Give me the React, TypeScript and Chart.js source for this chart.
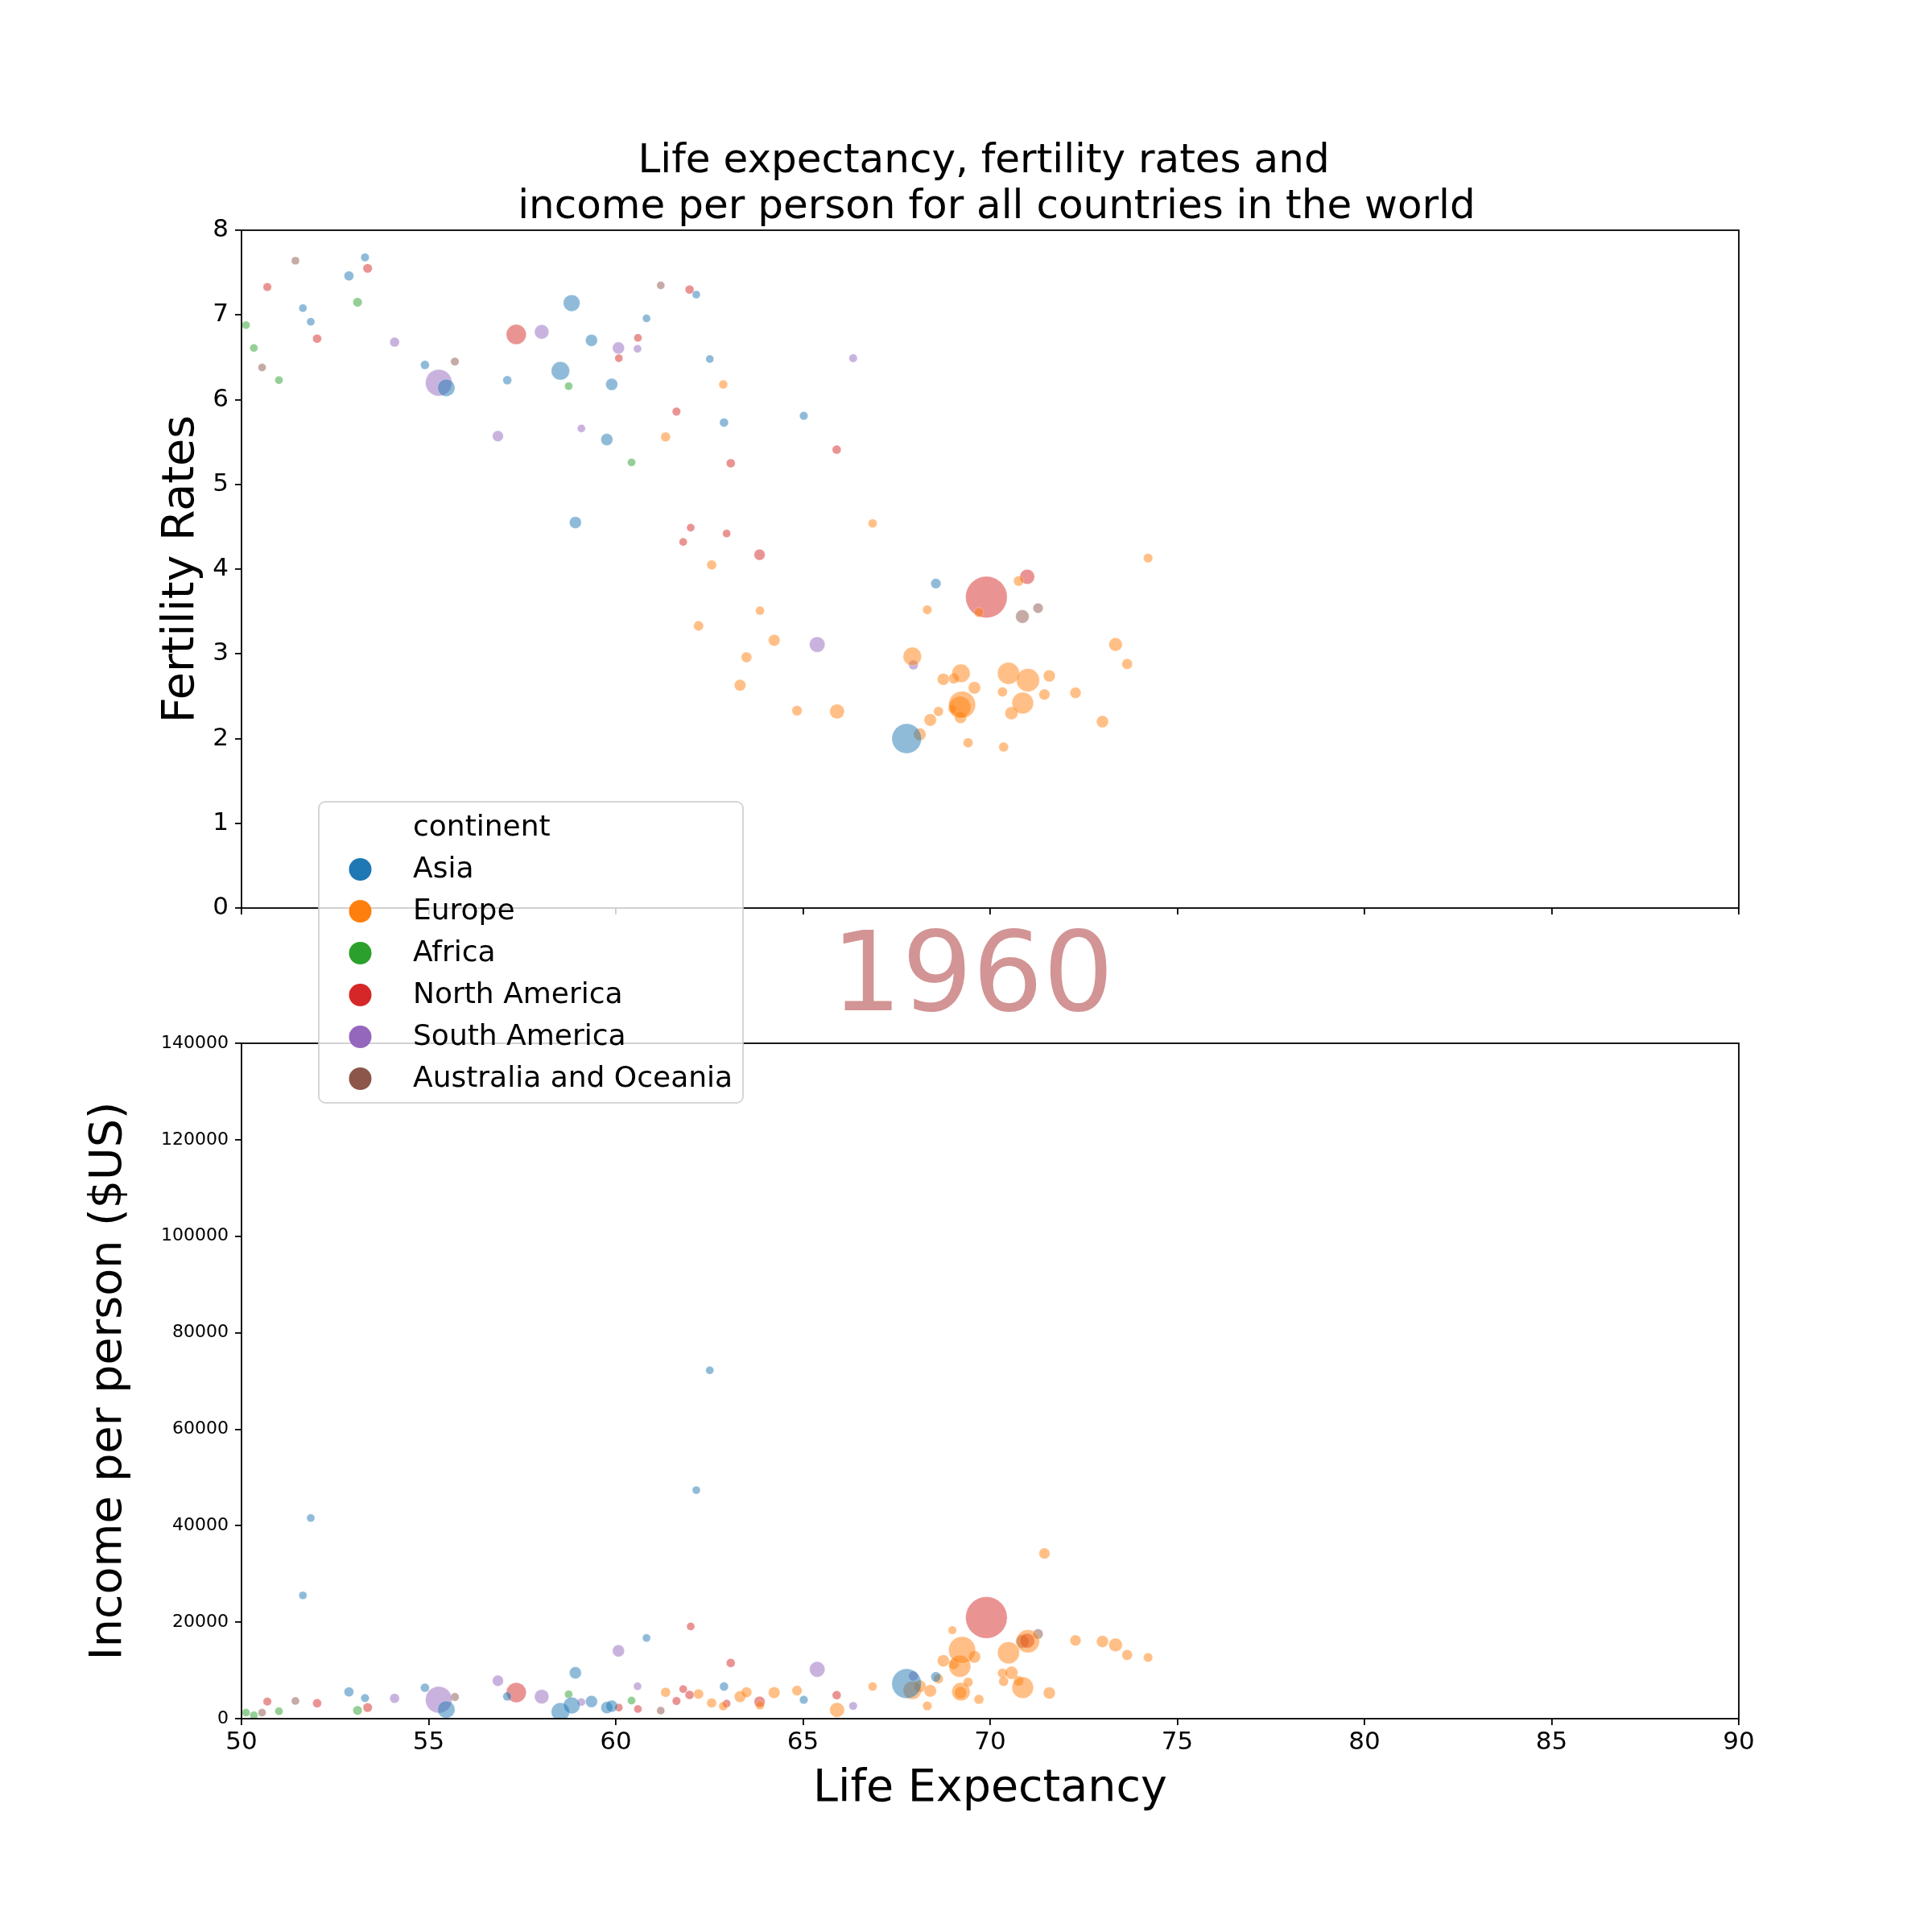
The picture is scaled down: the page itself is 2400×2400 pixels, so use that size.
import { useEffect, useRef } from 'react';
import { Chart, registerables } from 'chart.js';

Chart.register(...registerables);

// ---- data: one entry per country, year 1960 ----
const continents = ['Asia', 'Europe', 'Africa', 'North America', 'South America', 'Australia and Oceania'];
const continentColors = ['#1f77b4', '#ff7f0e', '#2ca02c', '#d62728', '#9467bd', '#8c564b'];

// continent index (into `continents`) for each country
const continentOf = [
  0, 0, 0, 0, 0, 0, 0, 0, 0, 0, 0, 0, 0, 0, 0, 0, 0, 0, 0, 0,
  1, 1, 1, 1, 1, 1, 1, 1, 1, 1, 1, 1, 1, 1, 1, 1, 1, 1, 1, 1,
  1, 1, 1, 1, 1, 1, 1, 1, 1, 1, 1, 1, 1, 1, 1, 1, 1, 1, 1, 1,
  2, 2, 2, 2, 2, 2,
  3, 3, 3, 3, 3, 3, 3, 3, 3, 3, 3, 3, 3, 3, 3, 3,
  4, 4, 4, 4, 4, 4, 4, 4, 4, 4,
  5, 5, 5, 5, 5, 5,
];

const lifeExpectancy = [
  // Asia
  51.64, 51.85, 52.87, 53.30, 54.90, 55.47, 57.10, 58.52, 58.82, 58.92,
  59.35, 59.76, 59.89, 60.82, 62.15, 62.51, 62.89, 65.02, 67.77, 68.55,
  // Europe
  61.33, 62.21, 62.56, 62.87, 63.32, 63.49, 63.85, 64.23, 64.84, 65.91,
  66.86, 67.92, 68.12, 68.32, 68.40, 68.62, 68.75, 68.99, 69.03, 69.19,
  69.21, 69.22, 69.25, 69.41, 69.58, 69.70, 70.33, 70.36, 70.49, 70.57,
  70.76, 70.87, 71.01, 71.45, 71.58, 72.28, 73.00, 73.35, 73.66, 74.22,
  // Africa
  50.12, 50.33, 51.00, 53.10, 58.74, 60.42,
  // North America
  50.69, 52.02, 53.37, 57.34, 60.08, 60.59, 61.62, 61.80, 61.97, 62.00,
  62.96, 63.07, 63.84, 65.90, 69.90, 70.99,
  // South America
  54.09, 55.27, 56.85, 58.02, 59.08, 60.07, 60.58, 65.38, 66.34, 67.95,
  // Australia and Oceania
  50.55, 51.44, 55.70, 61.20, 70.86, 71.28,
];

const fertilityRate = [
  7.08, 6.92, 7.46, 7.68, 6.41, 6.14, 6.23, 6.34, 7.14, 4.55,
  6.70, 5.53, 6.18, 6.96, 7.24, 6.48, 5.73, 5.81, 2.00, 3.83,
  5.56, 3.33, 4.05, 6.18, 2.63, 2.96, 3.51, 3.16, 2.33, 2.32,
  4.54, 2.97, 2.05, 3.52, 2.22, 2.32, 2.70, 2.35, 2.71, 2.37,
  2.25, 2.77, 2.40, 1.95, 2.60, 3.49, 2.55, 1.90, 2.77, 2.30,
  3.86, 2.42, 2.69, 2.52, 2.74, 2.54, 2.20, 3.11, 2.88, 4.13,
  6.88, 6.61, 6.23, 7.15, 6.16, 5.26,
  7.33, 6.72, 7.55, 6.77, 6.49, 6.73, 5.86, 4.32, 7.30, 4.49,
  4.42, 5.25, 4.17, 5.41, 3.67, 3.91,
  6.68, 6.20, 5.57, 6.80, 5.66, 6.61, 6.60, 3.11, 6.49, 2.87,
  6.38, 7.64, 6.45, 7.35, 3.44, 3.54,
];

const incomePerPerson = [
  25550, 41600, 5530, 4280, 6420, 1890, 4630, 1420, 2730, 9520,
  3560, 2310, 2600, 16730, 47370, 72220, 6660, 3930, 7270, 8660,
  5470, 5110, 3260, 2600, 4570, 5470, 2780, 5400, 5820, 1820,
  6660, 5880, 6710, 2650, 5770, 8270, 12000, 18340, 11330, 10880,
  5400, 5600, 14220, 7550, 12830, 4000, 9440, 7720, 13670, 9500,
  7830, 6440, 16060, 34250, 5330, 16230, 16000, 15280, 13220, 12670,
  1240, 700, 1530, 1710, 5050, 3740,
  3560, 3200, 2310, 5410, 2310, 2010, 3680, 6120, 4930, 19120,
  3140, 11545, 3500, 4880, 20960, 16170,
  4220, 3920, 7850, 4570, 3440, 14050, 6720, 10220, 2650, 8830,
  1240, 3680, 4510, 1660, 16000, 17560,
];

// population in millions
const populationMillions = [
  0.3, 0.3, 3.5, 1.0, 1.8, 26, 1.8, 30, 24, 9,
  9, 9, 9, 0.3, 0.3, 0.3, 1.8, 1.0, 90, 4.5,
  3.5, 4, 3.5, 1.8, 7.8, 5.4, 1.8, 7.8, 4.5, 17,
  1.8, 30, 10, 2.6, 10, 3.5, 8.9, 1.0, 5.4, 46,
  8.9, 30, 73, 3.5, 10, 3.5, 3.5, 3.5, 46, 11.6,
  4.5, 44, 52, 6.6, 8.9, 6.6, 8.9, 13, 5.4, 2.6,
  0.3, 0.3, 0.3, 2.6, 0.3, 0.3,
  1.0, 1.8, 2.6, 37, 0.3, 0.3, 1.0, 0.3, 1.8, 0.3,
  0.3, 1.8, 6.6, 1.8, 183, 17.4,
  3.5, 71, 6.6, 16, 0.3, 9, 0.3, 20, 1.0, 3.5,
  0.3, 0.3, 1.0, 0.3, 13, 4.5,
];

const yearLabel = '1960';
const xTicks = { min: 50, max: 90, step: 5 };
const fertilityTicks = { min: 0, max: 8, step: 1 };
const incomeTicks = { min: 0, max: 140000, step: 20000 };

// ---- styling ----
const FONT = '"DejaVu Sans"';
const font = (size: number) => `${size}px ${FONT}`;

function withAlpha(hex: string, a: number) {
  const n = parseInt(hex.slice(1), 16);
  return `rgba(${(n >> 16) & 255},${(n >> 8) & 255},${n & 255},${a})`;
}

// marker area grows linearly with population
function markerDiameter(pop: number) {
  return Math.sqrt(95 + 14 * pop);
}

function buildDatasets(yValues: number[]) {
  return continents.map((name, ci) => {
    const idx = continentOf.map((c, i) => (c === ci ? i : -1)).filter((i) => i >= 0);
    const radii = idx.map((i) => markerDiameter(populationMillions[i]) / 2);
    return {
      label: name,
      data: idx.map((i) => ({ x: lifeExpectancy[i], y: yValues[i] })),
      pointRadius: radii,
      pointHoverRadius: radii,
      pointBackgroundColor: withAlpha(continentColors[ci], 0.5),
      pointBorderColor: 'rgba(255,255,255,0.5)',
      pointBorderWidth: 0.6,
      pointHoverBorderWidth: 0.6,
    };
  });
}

function drawText(
  ctx: CanvasRenderingContext2D,
  text: string,
  x: number,
  y: number,
  size: number,
  opts: { align?: CanvasTextAlign; rotate?: number; color?: string } = {}
) {
  ctx.save();
  ctx.font = font(size);
  ctx.fillStyle = opts.color ?? '#000';
  ctx.textAlign = opts.align ?? 'center';
  ctx.textBaseline = 'alphabetic';
  ctx.translate(x, y);
  if (opts.rotate) ctx.rotate(opts.rotate);
  ctx.fillText(text, 0, 0);
  ctx.restore();
}

const framePlugin = {
  id: 'axesFrame',
  afterDraw(chart: any) {
    const { ctx, chartArea: a } = chart;
    ctx.save();
    ctx.strokeStyle = '#000';
    ctx.lineWidth = 1.8;
    ctx.strokeRect(a.left, a.top, a.right - a.left, a.bottom - a.top);
    ctx.restore();
  },
};

const upperDecor = {
  id: 'upperDecor',
  afterDraw(chart: any) {
    const ctx: CanvasRenderingContext2D = chart.ctx;
    const a = chart.chartArea;
    const cx = (a.left + a.right) / 2;
    drawText(ctx, 'Life expectancy, fertility rates and ', cx, 214, 50);
    drawText(ctx, ' income per person for all countries in the world', cx, 271, 50);
    drawText(ctx, 'Fertility Rates', 240, (a.top + a.bottom) / 2, 55.5, { rotate: -Math.PI / 2 });
    drawText(ctx, yearLabel, 1208, 1255, 138, { color: 'rgba(165,42,42,0.5)' });

    // legend box
    ctx.save();
    ctx.beginPath();
    ctx.roundRect(396, 996, 527, 374, 8);
    ctx.fillStyle = 'rgba(255,255,255,0.8)';
    ctx.fill();
    ctx.lineWidth = 2;
    ctx.strokeStyle = 'rgba(204,204,204,0.8)';
    ctx.stroke();
    ctx.restore();
    drawText(ctx, 'continent', 513, 1038, 36, { align: 'left' });
    continents.forEach((name, i) => {
      const y = 1080 + i * 52;
      ctx.save();
      ctx.beginPath();
      ctx.arc(447.5, y, 14, 0, Math.PI * 2);
      ctx.fillStyle = continentColors[i];
      ctx.fill();
      ctx.restore();
      drawText(ctx, name, 513, y + 9.5, 36, { align: 'left' });
    });
  },
};

const lowerDecor = {
  id: 'lowerDecor',
  afterDraw(chart: any) {
    const ctx: CanvasRenderingContext2D = chart.ctx;
    const a = chart.chartArea;
    drawText(ctx, 'Income per person ($US)', 150, (a.top + a.bottom) / 2, 55.5, { rotate: -Math.PI / 2 });
    drawText(ctx, 'Life Expectancy', (a.left + a.right) / 2, 2237, 55.5);
  },
};

const tickGrid = {
  display: true,
  drawOnChartArea: false,
  drawTicks: true,
  tickLength: 8,
  lineWidth: 1.8,
  color: '#000',
};

function baseOptions(padding: any, yRange: any, showXLabels: boolean, xSize: number, ySize: number) {
  return {
    responsive: false,
    animation: false as const,
    devicePixelRatio: 1,
    events: [],
    layout: { padding },
    plugins: {
      legend: { display: false },
      tooltip: { enabled: false },
      title: { display: false },
    },
    scales: {
      x: {
        type: 'linear' as const,
        min: xTicks.min,
        max: xTicks.max,
        ticks: {
          stepSize: xTicks.step,
          padding: 3,
          color: showXLabels ? '#000' : 'rgba(0,0,0,0)',
          font: { family: FONT, size: xSize },
          maxRotation: 0,
        },
        grid: tickGrid,
        border: { display: false },
        afterFit: (s: any) => {
          s.height = 60;
        },
      },
      y: {
        type: 'linear' as const,
        min: yRange.min,
        max: yRange.max,
        ticks: {
          stepSize: yRange.step,
          padding: 8,
          color: '#000',
          font: { family: FONT, size: ySize },
          callback: (v: any) => String(v),
        },
        grid: tickGrid,
        border: { display: false },
        afterFit: (s: any) => {
          s.width = 150;
        },
      },
    },
  };
}

export default function App() {
  const upperRef = useRef<HTMLCanvasElement>(null);
  const lowerRef = useRef<HTMLCanvasElement>(null);

  useEffect(() => {
    const lower = new Chart(lowerRef.current!, {
      type: 'scatter',
      data: { datasets: buildDatasets(incomePerPerson) as any },
      options: baseOptions({ left: 150, right: 240, top: 1296, bottom: 205 }, incomeTicks, true, 31, 22) as any,
      plugins: [framePlugin, lowerDecor],
    });
    const upper = new Chart(upperRef.current!, {
      type: 'scatter',
      data: { datasets: buildDatasets(fertilityRate) as any },
      options: baseOptions({ left: 150, right: 240, top: 286, bottom: 2400 - 1128 - 60 }, fertilityTicks, false, 22, 31) as any,
      plugins: [framePlugin, upperDecor],
    });
    return () => {
      upper.destroy();
      lower.destroy();
    };
  }, []);

  const canvasStyle: React.CSSProperties = { position: 'absolute', left: 0, top: 0, width: 2400, height: 2400 };
  return (
    <div style={{ position: 'absolute', left: 0, top: 0, width: 2400, height: 2400, background: '#fff' }}>
      <canvas ref={lowerRef} width={2400} height={2400} style={canvasStyle} />
      <canvas ref={upperRef} width={2400} height={2400} style={canvasStyle} />
    </div>
  );
}
